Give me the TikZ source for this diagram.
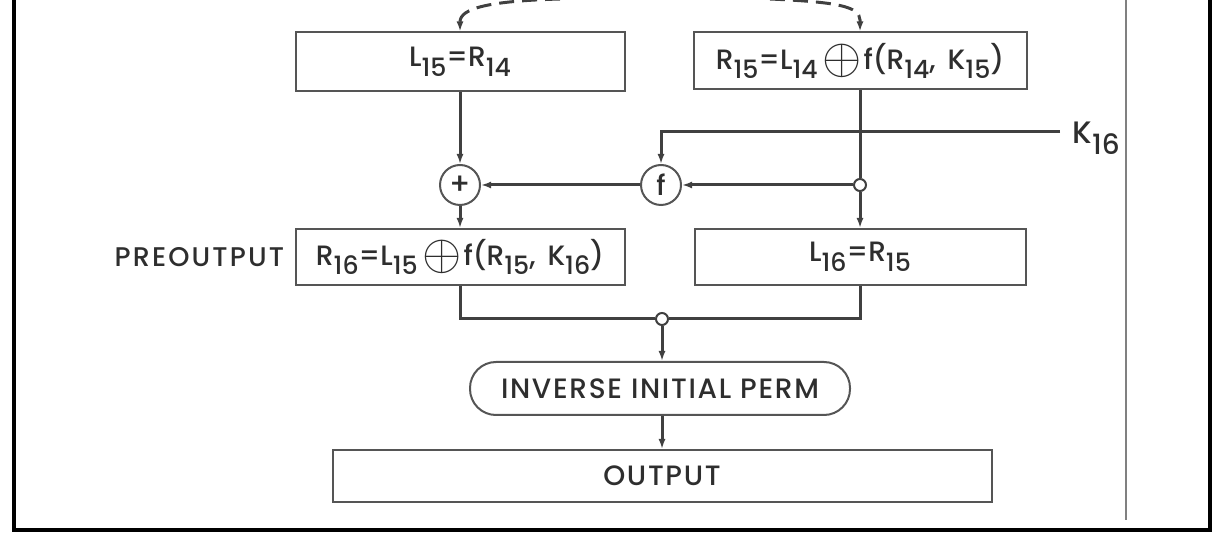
\documentclass[tikz,border=0pt]{standalone}
\usepackage{fontspec}
\usepackage{graphicx}
\setmainfont{Poppins}[UprightFont=* Medium, BoldFont=* SemiBold]
\usetikzlibrary{arrows.meta}
\definecolor{ink}{HTML}{2E2E2E}
\definecolor{boxline}{HTML}{555555}
\definecolor{wireline}{HTML}{404040}
\newcommand{\ix}[1]{\raisebox{-0.35em}{\scalebox{0.9}{#1}}}
\newcommand{\xorsym}{\,\raisebox{-0.15em}{\scalebox{1.75}{$\oplus$}}\kern1pt}
\newcommand{\wide}{\addfontfeatures{LetterSpace=6}}

\begin{document}
\begin{tikzpicture}[x=0.5pt,y=-0.5pt]
\tikzstyle{every node}=[text=ink, font=\fontsize{14}{16}\selectfont, inner sep=0pt]
\tikzstyle{box}=[draw=boxline, line width=1pt]
\tikzstyle{gate}=[shape=circle, draw=boxline, line width=1pt, fill=white, minimum size=20pt]
\tikzstyle{tap}=[shape=circle, draw=wireline, line width=1pt, fill=white, minimum size=6pt]
\tikzstyle{wire}=[draw=wireline, line width=1.5pt]
\useasboundingbox (0,0) rectangle (1230,544);
\clip (0,0) rectangle (1230,544);

% frame
\draw[line width=2pt] (13.5,0) -- (13.5,529.5) -- (1210,529.5) -- (1210,0);
\draw[gray, line width=1pt] (1126,0) -- (1126,520);

\node[box, minimum width=164.5pt, minimum height=29.5pt] (l15) at (460,62) {L\ix{15}=R\ix{14}};
\node[box, minimum width=166.5pt, minimum height=28.5pt] (r15) at (860,61)
{R\ix{15}=L\ix{14}\xorsym f(R\ix{14},\ \,K\ix{15})};
\node[gate, font=\fontsize{15}{16}\selectfont] (xor) at (460,185) {+};
\node[gate] (fgate) at (661,185) {f};
\node[tap] (split) at (860,185) {};
\node[box, minimum width=164.5pt, minimum height=28pt,
label={[label distance=5pt, font=\fontsize{13.5}{15}\selectfont\addfontfeatures{LetterSpace=8}]left:{PREOUTPUT}}
] (r16) at (460,257) {R\ix{16}=L\ix{15}\xorsym f(R\ix{15},\ \,K\ix{16})};
\node[box, minimum width=165.5pt, minimum height=28pt] (l16) at (860,257) {L\ix{16}=R\ix{15}};
\node[tap] (join) at (662,319) {};
\node[box, rounded corners=13pt, minimum width=190pt, minimum height=26.5pt] (iperm) at (660,388.5)
{\wide INVERSE INITIAL PERM};
\node[box, minimum width=329.5pt, minimum height=26pt] (out) at (662,476) {\wide OUTPUT};
\coordinate (kin) at (1060,132);
\node[anchor=base west, font=\fontsize{15.5}{17}\selectfont] (k16) at (1072,144) {K\ix{16}};

\draw[wire, dashed, dash pattern=on 7.5pt off 4pt, -{Latex[length=5pt,width=3.5pt]}]
(560,-1) .. controls (490,1) and (460,8) .. (460,22) -- (l15);
\draw[wire, dashed, dash pattern=on 7.5pt off 4pt, -{Latex[length=5pt,width=3.5pt]}]
(770,-1) .. controls (835,2) and (860,6) .. (860,20) -- (r15);

\draw[wire, -{Latex[length=5pt,width=3.5pt]}] (l15) -- (xor);
\draw[wire, -{Latex[length=5pt,width=3.5pt]}] (xor) -- (r16);
\draw[wire] (r15) -- (split);
\draw[wire, -{Latex[length=5pt,width=3.5pt]}] (split) -- (l16);
\draw[wire, -{Latex[length=5pt,width=3.5pt]}] (split) -- (fgate);
\draw[wire, -{Latex[length=5pt,width=3.5pt]}] (fgate) -- (xor);
\draw[wire, -{Latex[length=5pt,width=3.5pt]}] (kin) -| (fgate);
\draw[wire] (r16) |- (join);
\draw[wire] (l16) |- (join);
\draw[wire, -{Latex[length=5pt,width=3.5pt]}] (join) -- (join |- iperm.north);
\draw[wire, -{Latex[length=5pt,width=3.5pt]}] (join |- iperm.south) -- (join |- out.north);

\end{tikzpicture}
\end{document}
